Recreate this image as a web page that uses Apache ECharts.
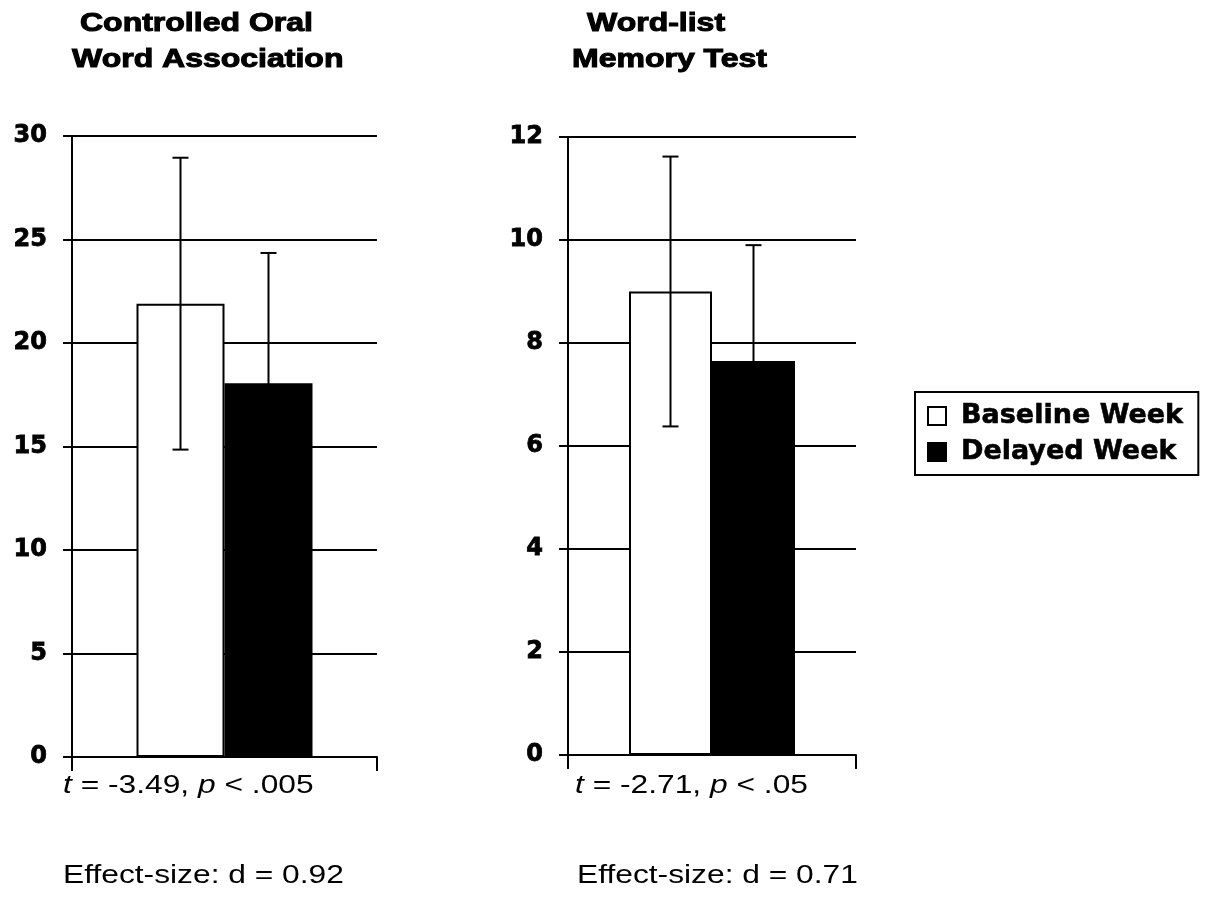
<!DOCTYPE html>
<html>
<head>
<meta charset="utf-8">
<script src="https://cdn.jsdelivr.net/npm/echarts@6/dist/echarts.min.js"></script>
<style>
  html, body { margin: 0; padding: 0; background: #fff; }
  #chart { width: 1208px; height: 910px; }
</style>
</head>
<body>
<div id="chart"></div>
<script>
// Data
const panels = ['Controlled Oral Word Association', 'Word-list Memory Test'];
const titleLines = [['Controlled Oral', 'Word Association'], ['Word-list', 'Memory Test']];
const baselineMean = [21.9, 9.0];
const baselineErr = [7.05, 2.62];
const delayedMean = [18.05, 7.65];
const delayedErr = [6.3, 2.25];
const yMax = [30, 12];
const yStep = [5, 2];
const tStats = ['{i|t}{n| = -3.49, }{i|p}{n| < .005}', '{i|t}{n| = -2.71, }{i|p}{n| < .05}'];
const effects = ['Effect-size: d = 0.92', 'Effect-size: d = 0.71'];

const chart = echarts.init(document.getElementById('chart'), null, { renderer: 'canvas' });

const grids = [
  { left: 72, top: 136, width: 305, height: 621 },
  { left: 568, top: 137, width: 288, height: 618 }
];
const barWidths = [88, 83];
const textX = [[80, 72], [587, 572]];
const noteX = [[63, 63], [575, 577]];

const black = '#000';
const labelFont = 'DejaVu Sans';
const textFont = '"Liberation Sans", Arial, sans-serif';

function errorRender(offset) {
  return function (params, api) {
    const lo = api.coord([0, api.value(1)]);
    const hi = api.coord([0, api.value(2)]);
    const x = lo[0] + offset;
    const half = 8;
    const st = { stroke: black, lineWidth: 2 };
    return {
      type: 'group',
      children: [
        { type: 'line', shape: { x1: x, y1: lo[1], x2: x, y2: hi[1] }, style: st },
        { type: 'line', shape: { x1: x - half, y1: hi[1], x2: x + half, y2: hi[1] }, style: st },
        { type: 'line', shape: { x1: x - half, y1: lo[1], x2: x + half, y2: lo[1] }, style: st }
      ]
    };
  };
}

const xAxes = [], yAxes = [], series = [], graphics = [];

panels.forEach((name, i) => {
  xAxes.push({
    type: 'category',
    gridIndex: i,
    data: [name],
    axisLine: { lineStyle: { color: black, width: 2 } },
    axisTick: { show: true, length: 14, lineStyle: { color: black, width: 2 } },
    axisLabel: { show: false },
    splitLine: { show: false }
  });
  yAxes.push({
    type: 'value',
    gridIndex: i,
    min: 0,
    max: yMax[i],
    interval: yStep[i],
    axisLine: { show: true, lineStyle: { color: black, width: 2 } },
    axisTick: { show: true, length: 9, lineStyle: { color: black, width: 2 } },
    axisLabel: {
      color: black, fontFamily: labelFont, fontWeight: 'bold', fontSize: 24, margin: 25,
      textBorderColor: black, textBorderWidth: 0.8
    },
    splitLine: { show: true, lineStyle: { color: black, width: 2 } }
  });
  series.push({
    name: 'Baseline Week',
    type: 'bar',
    xAxisIndex: i,
    yAxisIndex: i,
    barWidth: barWidths[i],
    barGap: '0%',
    data: [baselineMean[i]],
    itemStyle: { color: '#fff', borderColor: black, borderWidth: 2 }
  });
  series.push({
    name: 'Delayed Week',
    type: 'bar',
    xAxisIndex: i,
    yAxisIndex: i,
    barWidth: barWidths[i],
    barGap: '0%',
    data: [delayedMean[i]],
    itemStyle: { color: black, borderColor: black, borderWidth: 2 }
  });
  series.push({
    name: 'Baseline error',
    type: 'custom',
    xAxisIndex: i,
    yAxisIndex: i,
    z: 10,
    renderItem: errorRender(-barWidths[i] / 2),
    encode: { x: 0, y: [1, 2] },
    data: [[0, baselineMean[i] - baselineErr[i], baselineMean[i] + baselineErr[i]]]
  });
  series.push({
    name: 'Delayed error',
    type: 'custom',
    xAxisIndex: i,
    yAxisIndex: i,
    z: 10,
    renderItem: errorRender(barWidths[i] / 2),
    encode: { x: 0, y: [1, 2] },
    data: [[0, delayedMean[i] - delayedErr[i], delayedMean[i] + delayedErr[i]]]
  });

  // panel titles
  titleLines[i].forEach((line, k) => {
    graphics.push({
      type: 'text',
      x: textX[i][k],
      y: k === 0 ? 24 : 60,
      scaleX: 1.28,
      style: {
        text: line,
        fontFamily: textFont,
        fontWeight: 'bold',
        fontSize: 25,
        fill: black,
        stroke: black,
        lineWidth: 1,
        align: 'left', textAlign: 'left',
        verticalAlign: 'middle', textVerticalAlign: 'middle'
      }
    });
  });

  // statistics under each panel
  graphics.push({
    type: 'text',
    x: noteX[i][0],
    y: 786,
    scaleX: 1.27,
    style: {
      text: tStats[i],
      fontFamily: textFont,
      fontSize: 25,
      fill: black,
      rich: {
        i: { fontFamily: textFont, fontSize: 25, fontStyle: 'italic', fill: black },
        n: { fontFamily: textFont, fontSize: 25, fill: black }
      },
      align: 'left', textAlign: 'left',
      verticalAlign: 'middle', textVerticalAlign: 'middle'
    }
  });
  graphics.push({
    type: 'text',
    x: noteX[i][1],
    y: 876,
    scaleX: 1.27,
    style: {
      text: effects[i],
      fontFamily: textFont,
      fontSize: 25,
      fill: black,
      align: 'left', textAlign: 'left',
      verticalAlign: 'middle', textVerticalAlign: 'middle'
    }
  });
});

const option = {
  backgroundColor: '#fff',
  animation: false,
  grid: grids,
  xAxis: xAxes,
  yAxis: yAxes,
  legend: {
    data: ['Baseline Week', 'Delayed Week'],
    orient: 'vertical',
    left: 915,
    top: 392,
    padding: [10, 15, 9, 12],
    borderColor: black,
    borderWidth: 2,
    icon: 'rect',
    itemWidth: 18,
    itemHeight: 18,
    itemGap: 8,
    selectedMode: false,
    textStyle: {
      color: black,
      fontFamily: labelFont,
      fontWeight: 'bold',
      fontSize: 27,
      lineHeight: 28,
      padding: [0, 0, 0, 10],
      textBorderColor: black,
      textBorderWidth: 0.6
    }
  },
  series: series,
  graphic: graphics
};

chart.setOption(option);
</script>
</body>
</html>
